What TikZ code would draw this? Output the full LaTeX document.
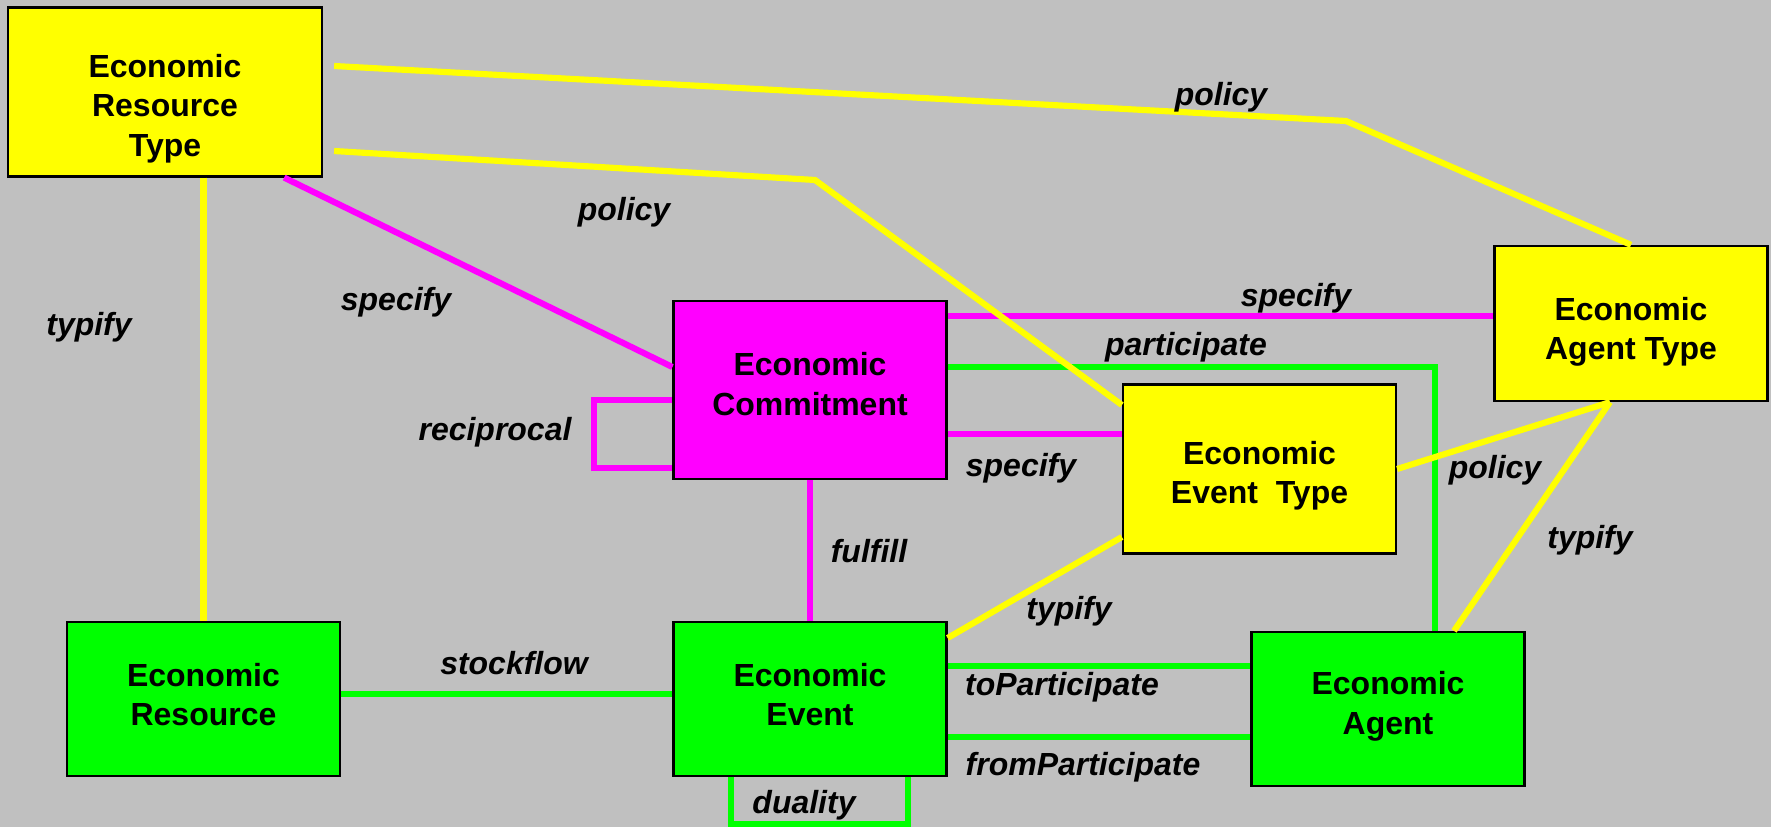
\documentclass[tikz,border=0pt]{standalone}
\usepackage{fontspec}
\setmainfont{Liberation Sans}
\definecolor{bg}{RGB}{192,192,192}
\definecolor{yel}{RGB}{255,255,0}
\definecolor{grn}{RGB}{0,255,0}
\definecolor{mag}{RGB}{255,0,255}
\newcommand{\padtop}[1]{\rule{0pt}{#1}}
\newcommand{\padbot}[1]{\rule[-#1]{0pt}{0pt}}
\tikzset{
  box/.style={draw=black, line width=1.3pt, align=center, minimum width=5.46cm,
    font=\bfseries\fontsize{18.2}{22.4}\selectfont},
  lbl/.style={font=\bfseries\itshape\fontsize{18.2}{22.8}\selectfont},
  link/.style={line width=3.5pt}
}
\begin{document}
\begin{tikzpicture}[x=0.02cm, y=-0.02cm]
    \fill[bg] (0,0) rectangle (1771,827);
    \useasboundingbox (0,0) rectangle (1771,827);
    \node[box, fill=yel, minimum width=6.28cm, minimum height=3.38cm] (ert) at (165,92) {\padtop{32pt}Economic\\Resource\\Type};
    \node[box, fill=grn, minimum height=3.08cm] (er) at (203.5,699) {Economic\\Resource\padbot{5pt}};
    \node[box, fill=mag, minimum height=3.56cm] (ec) at (810,390) {Economic\\Commitment\padbot{7pt}};
    \node[box, fill=grn, minimum height=3.08cm] (ee) at (810,699) {Economic\\Event\padbot{5pt}};
    \node[box, fill=yel, minimum height=3.38cm] (eet) at (1259.5,469) {\padtop{21pt}Economic\\Event\ \ Type};
    \node[box, fill=yel, minimum height=3.1cm] (eat) at (1631,323.5) {\padtop{23pt}Economic\\Agent Type};
    \node[box, fill=grn, minimum height=3.08cm] (ea) at (1388,709) {Economic\\Agent\padbot{7pt}};
    \coordinate (bendA) at (1346,121);
    \coordinate (bendB) at (815,180);
    \draw[link, mag] ([shift={(-39,0)}]ert.south east) -- ([shift={(0,-23)}]ec.west);
    \draw[link, mag] ([shift={(0,-74)}]ec.east) -- ([shift={(0,-7.5)}]eat.west);
    \draw[link, mag] ([shift={(0,44)}]ec.east) -- ([shift={(0,-35)}]eet.west);
    \draw[link, mag] ([shift={(0,10)}]ec.west) -- ++(-78,0) -- ++(0,68) -- ++(78,0);
    \draw[link, mag] (ec.south) -- (ee.north);
    \draw[link, grn] ([shift={(0,-23)}]ec.east) -| ([shift={(47,0)}]ea.north);
    \draw[link, grn] ([shift={(0,-5)}]er.east) -- ([shift={(0,-5)}]ee.west);
    \draw[link, grn] ([shift={(0,-33)}]ee.east) coordinate (toP) -- (toP -| ea.west);
    \draw[link, grn] ([shift={(0,38)}]ee.east) coordinate (fromP) -- (fromP -| ea.west);
    \draw[link, grn] ([shift={(-79,0)}]ee.south) -- ++(0,47) -- ++(177,0) -- ++(0,-47);
    \draw[link, yel] ([shift={(11,-26)}]ert.east) -- (bendA) -- (eat.north);
    \draw[link, yel] ([shift={(11,59)}]ert.east) -- (bendB) -- ([shift={(0,-64)}]eet.west);
    \draw[link, yel] (er.north |- ert.south) -- (er.north);
    \draw[link, yel] (eet.east) -- ([shift={(-21,0)}]eat.south);
    \draw[link, yel] ([shift={(66,0)}]ea.north) -- ([shift={(-21,0)}]eat.south);
    \draw[link, yel] ([shift={(0,-61)}]ee.east) -- ([shift={(0,68)}]eet.west);
    \node[lbl] (lPolicyA) at (1221,97) {policy};
    \node[lbl] (lPolicyB) at (624,212) {policy};
    \node[lbl] (lPolicyC) at (1495,470) {policy};
    \node[lbl] (lSpecifyA) at (396,302) {specify};
    \node[lbl] (lSpecifyB) at (1296,298) {specify};
    \node[lbl] (lSpecifyC) at (1021,468) {specify};
    \node[lbl] (lTypifyA) at (89,327) {typify};
    \node[lbl] (lTypifyB) at (1590,540) {typify};
    \node[lbl] (lTypifyC) at (1069,611) {typify};
    \node[lbl] (lPart) at (1186,347) {participate};
    \node[lbl] (lRecip) at (495,432) {reciprocal};
    \node[lbl] (lFulfill) at (869,551) {fulfill};
    \node[lbl] (lStock) at (514,663) {stockflow};
    \node[lbl] (lToPart) at (1062,687) {toParticipate};
    \node[lbl] (lFromPart) at (1083,767) {fromParticipate};
    \node[lbl] (lDuality) at (804,805) {duality};
\end{tikzpicture}
\end{document}
